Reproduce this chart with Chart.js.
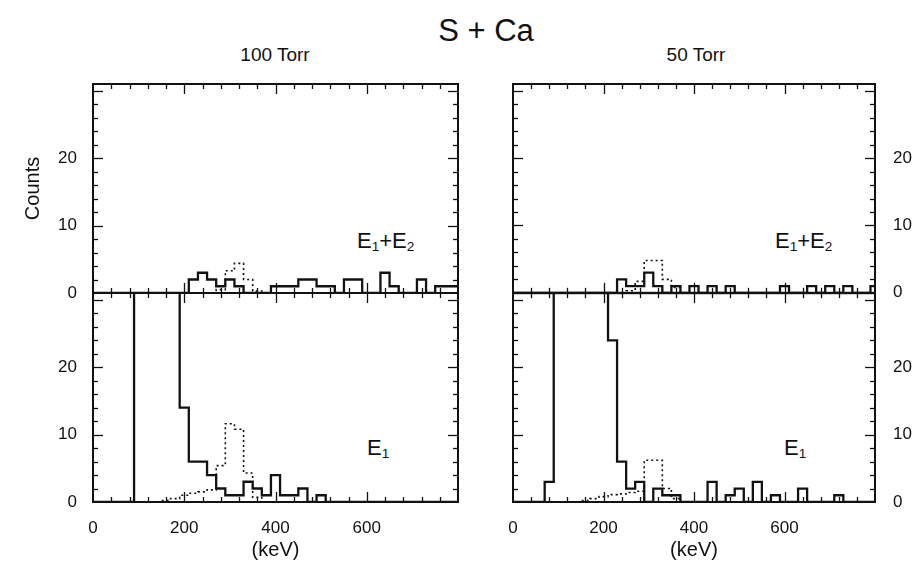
<!DOCTYPE html>
<html>
<head>
<meta charset="utf-8">
<script src="https://cdn.jsdelivr.net/npm/chart.js@4.4.1/dist/chart.umd.min.js"></script>
<style>
  body { margin: 0; background: #fff; width: 917px; height: 572px; position: relative; overflow: hidden;
         font-family: "Liberation Sans", Arial, sans-serif; color: #111; }
  canvas { position: absolute; }
  .lbl { position: absolute; white-space: nowrap; line-height: 1; }
  .lbl sub { font-size: 0.62em; vertical-align: -0.25em; }
</style>
</head>
<body>
<div class="lbl" style="left:0;width:972px;text-align:center;top:15px;font-size:31px;">S + Ca</div>
<div class="lbl" style="left:175px;width:200px;text-align:center;top:45px;font-size:19px;">100 Torr</div>
<div class="lbl" style="left:596px;width:200px;text-align:center;top:45px;font-size:19px;">50 Torr</div>
<div class="lbl" style="left:357px;top:230px;font-size:22px;">E<sub>1</sub>+E<sub>2</sub></div>
<div class="lbl" style="left:775px;top:230px;font-size:22px;">E<sub>1</sub>+E<sub>2</sub></div>
<div class="lbl" style="left:367px;top:437px;font-size:22px;">E<sub>1</sub></div>
<div class="lbl" style="left:784px;top:437px;font-size:22px;">E<sub>1</sub></div>

<canvas id="tl" width="470" height="253" style="left:0;top:60px"></canvas>
<canvas id="bl" width="470" height="299" style="left:0;top:273px"></canvas>
<canvas id="tr" width="417" height="253" style="left:500px;top:60px"></canvas>
<canvas id="br" width="417" height="299" style="left:500px;top:273px"></canvas>

<script>
// histogram bins: edges in keV, counts between consecutive edges
const keVMax = 800;
const countMax = 31;
const xTickLabels = [0, 200, 400, 600];
const yTickLabels = [0, 10, 20];

// 100 Torr, E1+E2
const sum100Edges  = [0, 210, 230, 250, 270, 290, 310, 330, 390, 450, 490, 530, 550, 590, 630, 650, 670, 710, 730, 750, 800];
const sum100Counts = [0, 2, 3, 2, 1, 2, 1, 0, 1, 2, 1, 0, 2, 0, 3, 1, 0, 2, 0, 1];
const sum100SimEdges  = [0, 270, 290, 310, 330, 350, 370, 800];
const sum100SimCounts = [0, 0.5, 3.3, 4.4, 2, 0.3, 0];

// 100 Torr, E1
const e1100Edges  = [0, 90, 190, 210, 250, 270, 290, 330, 350, 370, 390, 410, 450, 470, 490, 510, 800];
const e1100Counts = [0, 60, 14, 6, 4, 2, 1, 3, 2, 1, 4, 1, 2, 0, 1, 0];
const e1100SimEdges  = [0, 150, 170, 190, 210, 230, 250, 270, 290, 310, 330, 350, 370, 800];
const e1100SimCounts = [0, 0.2, 0.5, 1.0, 1.3, 1.5, 1.8, 5.4, 11.6, 10.8, 4.3, 0.7, 0];

// 50 Torr, E1+E2
const sum50Edges  = [0, 230, 250, 290, 310, 330, 350, 370, 390, 410, 430, 450, 470, 490, 590, 610, 650, 670, 690, 710, 730, 750, 790, 800];
const sum50Counts = [0, 2, 1, 3, 1, 0, 1, 0, 1, 0, 1, 0, 1, 0, 1, 0, 1, 0, 1, 0, 1, 0, 1];
const sum50SimEdges  = [0, 250, 270, 290, 330, 350, 370, 800];
const sum50SimCounts = [0, 0.3, 1.7, 4.8, 2, 0.8, 0];

// 50 Torr, E1
const e150Edges  = [0, 70, 90, 210, 230, 250, 270, 290, 310, 330, 350, 370, 430, 450, 470, 490, 510, 530, 550, 570, 590, 630, 650, 710, 730, 800];
const e150Counts = [0, 3, 60, 24, 6, 2, 3, 0, 2, 1, 1, 0, 3, 0, 1, 2, 0, 3, 0, 1, 0, 2, 0, 1, 0];
const e150SimEdges  = [0, 150, 170, 190, 210, 230, 250, 270, 290, 330, 350, 370, 800];
const e150SimCounts = [0, 0.2, 0.5, 0.8, 1.1, 1.2, 1.4, 1.6, 6.2, 2, 0.5, 0];

const INK = '#111';
const tickFont = { family: '"Liberation Sans", Arial, sans-serif', size: 17 };

function steps(edges, counts) {
    const pts = counts.map((c, i) => ({ x: edges[i], y: c }));
    pts.push({ x: edges[edges.length - 1], y: counts[counts.length - 1] });
    return pts;
}

// box with inward ticks, like the old plotting packages
const framePlugin = {
    id: 'frame',
    afterDatasetsDraw(chart) {
        const { ctx, chartArea: a, scales: { x, y } } = chart;
        const seg = (x1, y1, x2, y2) => { ctx.beginPath(); ctx.moveTo(x1, y1); ctx.lineTo(x2, y2); ctx.stroke(); };
        ctx.save();
        ctx.strokeStyle = INK;
        ctx.lineWidth = 1.3;
        for (let v = 40; v < keVMax; v += 40) {
            const px = Math.round(x.getPixelForValue(v)) + 0.5;
            const len = v % 200 === 0 ? 10 : 5;
            seg(px, a.bottom, px, a.bottom - len);
            seg(px, a.top, px, a.top + len);
        }
        for (let v = 2; v < countMax; v += 2) {
            const py = Math.round(y.getPixelForValue(v)) + 0.5;
            const len = v % 10 === 0 ? 10 : 5;
            seg(a.left, py, a.left + len, py);
            seg(a.right, py, a.right - len, py);
        }
        ctx.lineWidth = 2;
        ctx.strokeRect(a.left, a.top, a.right - a.left, a.bottom - a.top);
        ctx.restore();
    }
};

function makePanel(id, opts) {
    const datasets = [
        {
            data: steps(opts.simEdges, opts.simCounts),
            borderColor: INK, borderWidth: 1.6, borderDash: [2, 3],
            stepped: 'before', pointRadius: 0, fill: false
        },
        {
            data: steps(opts.edges, opts.counts),
            borderColor: INK, borderWidth: 2.3,
            stepped: 'before', pointRadius: 0, fill: false
        }
    ];
    const right = opts.side === 'right';
    return new Chart(document.getElementById(id), {
        type: 'line',
        data: { datasets },
        options: {
            responsive: false,
            animation: false,
            devicePixelRatio: 1,
            layout: { padding: opts.padding },
            plugins: { legend: { display: false }, tooltip: { enabled: false } },
            scales: {
                x: {
                    type: 'linear', min: 0, max: keVMax,
                    display: opts.bottom,
                    grid: { display: false }, border: { display: false },
                    afterBuildTicks: s => { s.ticks = xTickLabels.map(v => ({ value: v })); },
                    afterFit: s => { s.height = opts.bottom ? 70 : 0; },
                    ticks: { color: INK, font: tickFont, padding: 8, maxRotation: 0 },
                    title: {
                        display: opts.bottom, text: '(keV)', color: INK,
                        font: { family: tickFont.family, size: 20 }, padding: { top: 0, bottom: 10 }
                    }
                },
                y: {
                    type: 'linear', min: 0, max: countMax,
                    position: right ? 'right' : 'left',
                    grid: { display: false }, border: { display: false },
                    afterBuildTicks: s => { s.ticks = yTickLabels.map(v => ({ value: v })); },
                    afterFit: s => { s.width = right ? 42 : 93; },
                    ticks: { color: INK, font: tickFont, padding: right ? 10 : 8 },
                    title: {
                        display: !!opts.yTitle, text: opts.yTitle || '', color: INK,
                        font: { family: tickFont.family, size: 20 }, padding: { top: 21, bottom: 0 }
                    }
                }
            }
        },
        plugins: [framePlugin]
    });
}

makePanel('tl', { edges: sum100Edges, counts: sum100Counts, simEdges: sum100SimEdges, simCounts: sum100SimCounts,
    side: 'left', bottom: false, yTitle: 'Counts', padding: { left: 0, right: 12, top: 24, bottom: 20 } });
makePanel('bl', { edges: e1100Edges, counts: e1100Counts, simEdges: e1100SimEdges, simCounts: e1100SimCounts,
    side: 'left', bottom: true, padding: { left: 0, right: 12, top: 20, bottom: 0 } });
makePanel('tr', { edges: sum50Edges, counts: sum50Counts, simEdges: sum50SimEdges, simCounts: sum50SimCounts,
    side: 'right', bottom: false, padding: { left: 13, right: 0, top: 24, bottom: 20 } });
makePanel('br', { edges: e150Edges, counts: e150Counts, simEdges: e150SimEdges, simCounts: e150SimCounts,
    side: 'right', bottom: true, padding: { left: 13, right: 0, top: 20, bottom: 0 } });
</script>
</body>
</html>
